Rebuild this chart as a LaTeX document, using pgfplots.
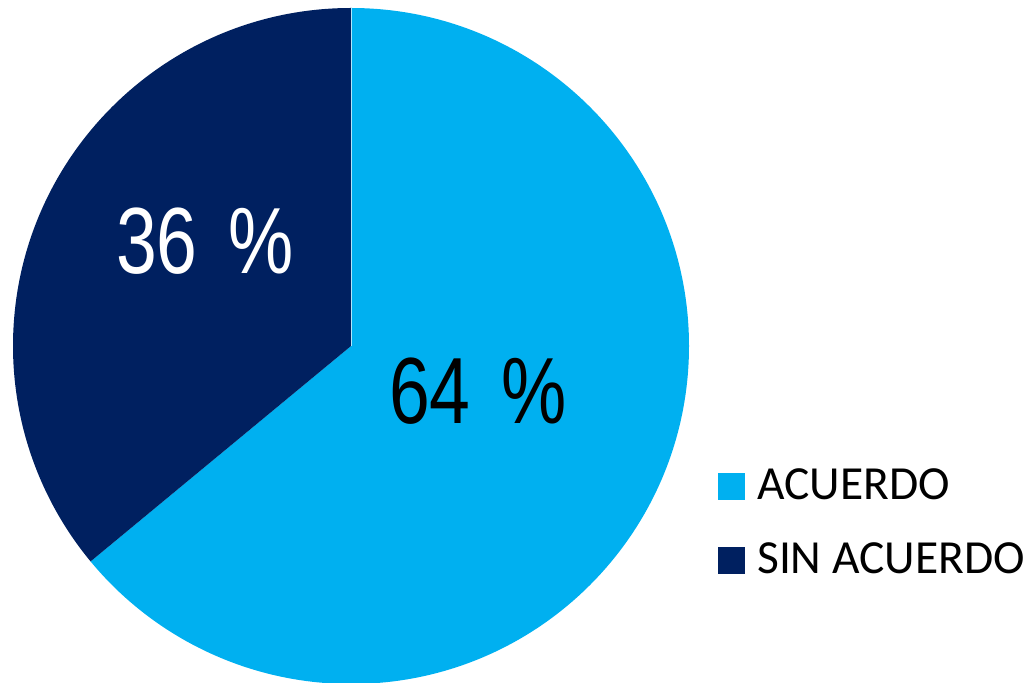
\documentclass[border=0pt]{standalone}
\usepackage{pgfplots}
\usepackage{pgfplotstable}
\pgfplotsset{compat=1.18}
\usepackage{fontspec}
\setmainfont{Carlito}
\newfontfamily\narrowfont[FakeStretch=0.78]{Liberation Sans}
\definecolor{acuerdo}{HTML}{00B0F0}
\definecolor{sinacuerdo}{HTML}{002060}

\pgfplotstableread{
label value
ACUERDO 64
SIN 36
}\piedata

\pgfplotstablegetelem{0}{value}\of\piedata
\let\va\pgfplotsretval
\pgfplotstablegetelem{1}{value}\of\piedata
\let\vb\pgfplotsretval
% slices run clockwise from 12 o'clock
\pgfmathsetmacro\angA{90-3.6*\va}

\begin{document}
\begin{tikzpicture}
\begin{axis}[
    x=1pt, y=1pt,
    xmin=0, xmax=1029,
    ymin=0, ymax=683,
    hide axis,
    clip=false,
    scale only axis,
]
% pie (centre 351,337 ; radius 338)
\fill[acuerdo] (axis cs:351,337) -- (axis cs:351,675)
    arc[start angle=90, end angle=\angA, radius=338pt] -- cycle;
\fill[sinacuerdo] (axis cs:351,337) -- (axis cs:351,675)
    arc[start angle=90, end angle=\angA+360, radius=338pt] -- cycle;
\draw[white!70!acuerdo, line width=0.6pt] (axis cs:351,337) -- (axis cs:351,675);

\node[white, inner sep=0pt, font=\narrowfont\fontsize{94}{100}\selectfont]
    at (axis cs:205,442) {\vb\hspace{0.33em}\%};
\node[black, inner sep=0pt, font=\narrowfont\fontsize{94}{100}\selectfont]
    at (axis cs:478,292) {\va\hspace{0.33em}\%};

% legend
\fill[acuerdo] (axis cs:718,183) rectangle (axis cs:745,210);
\fill[sinacuerdo] (axis cs:718,109) rectangle (axis cs:745,136);
\node[anchor=base west, inner sep=0pt, font=\fontsize{47.5}{50}\selectfont]
    at (axis cs:757,183) {ACUERDO};
\node[anchor=base west, inner sep=0pt, font=\fontsize{47.5}{50}\selectfont]
    at (axis cs:757,109) {SIN ACUERDO};
\end{axis}
\pgfresetboundingbox
\path (current axis.south west) rectangle (current axis.north east);
\end{tikzpicture}
\end{document}
